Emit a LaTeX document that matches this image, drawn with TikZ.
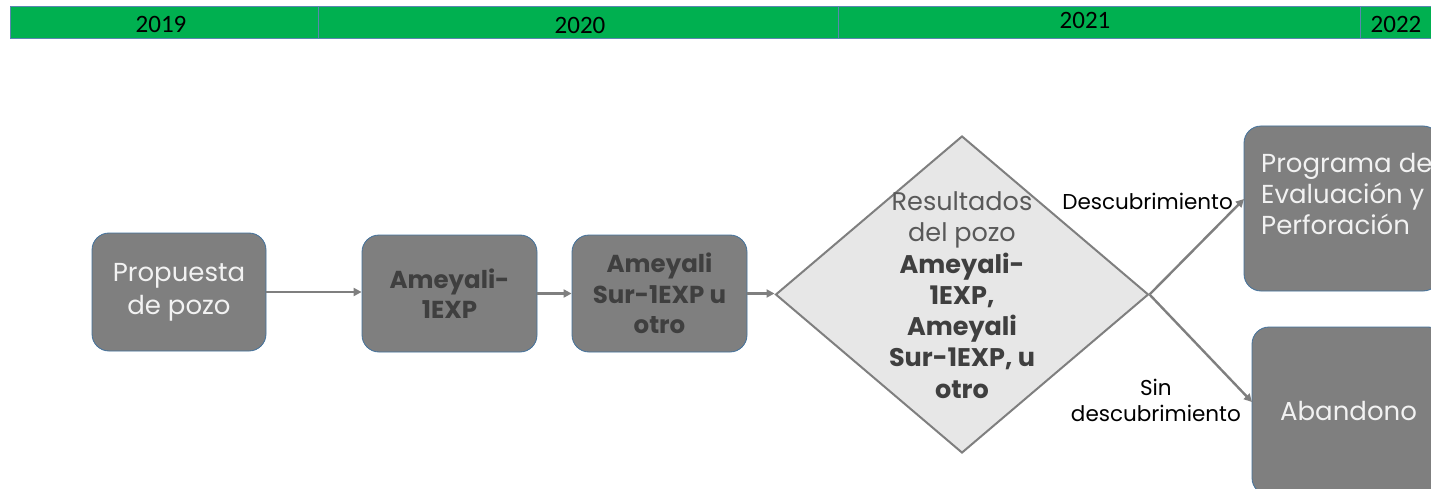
\documentclass[tikz,border=0pt]{standalone}
\usepackage{fontspec}
\setmainfont{Poppins}
\newfontfamily\yearfont{Carlito}
\usetikzlibrary{shapes.geometric,arrows.meta}
\definecolor{barG}{HTML}{00B050}
\definecolor{barEdge}{HTML}{5A86B0}
\definecolor{boxG}{HTML}{7F7F7F}
\definecolor{boxEdge}{HTML}{41719C}
\definecolor{decF}{HTML}{E7E7E7}
\definecolor{lineG}{HTML}{7F7F7F}
\definecolor{darkT}{HTML}{3F3F3F}
\definecolor{midT}{HTML}{595959}
\definecolor{lightT}{HTML}{F2F2F2}
\tikzset{
  yearseg/.style={fill=barG, draw=barEdge, line width=0.8pt},
  yeartxt/.style={font=\yearfont\fontsize{25}{27}\selectfont, text=black, inner sep=0},
  stagebox/.style={rounded corners=17pt, fill=boxG, draw=boxEdge, line width=0.8pt, inner sep=0, align=center},
  lighttxt/.style={text=lightT, font=\fontsize{26}{33}\selectfont},
  boldtxt/.style={text=darkT, font=\fontsize{24.5}{30.5}\selectfont\bfseries},
  decbox/.style={diamond, fill=decF, draw=lineG, line width=2pt, inner sep=0},
  arr/.style={draw=lineG, line width=2.4pt, -{Triangle[length=8pt,width=8pt]}},
  edgetxt/.style={text=black, font=\fontsize{21.5}{26}\selectfont, inner sep=0, align=center}
}
\begin{document}
\begin{tikzpicture}[x=1pt,y=-1pt]
\useasboundingbox (0,0) rectangle (1431,489);
\clip (0,0) rectangle (1431,489);
% timeline bar
\draw[yearseg] (10,6) rectangle (318,38);
\draw[yearseg] (318,6) rectangle (838,38);
\draw[yearseg] (838,6) rectangle (1360,38);
\draw[yearseg] (1360,6) rectangle (1440,38);
\node[yeartxt] (y19) at (161,24) {2019};
\node[yeartxt] (y20) at (580,25) {2020};
\node[yeartxt] (y21) at (1085,20) {2021};
\node[yeartxt] (y22) at (1396,24) {2022};
% stages
\node[stagebox, minimum width=174pt, minimum height=118pt, lighttxt] (prop) at (179,292) {Propuesta\\de pozo};
\node[stagebox, minimum width=175pt, minimum height=117pt, boldtxt] (ame) at (449.5,293.5) {Ameyali-\\1EXP};
\node[stagebox, minimum width=175pt, minimum height=117pt, boldtxt] (sur) at (659.5,293.5) {Ameyali\\Sur-1EXP u\\otro};
\node[decbox, minimum width=373pt, minimum height=317pt] (dec) at (962,294.5) {};
\node[inner sep=0, align=center, font=\fontsize{25.5}{31.3}\selectfont] (dectxt) at (962,295)
  {\textcolor{midT}{Resultados}\\\textcolor{midT}{del pozo}\\\textcolor{darkT}{\bfseries Ameyali-}\\\textcolor{darkT}{\bfseries 1EXP,}\\\textcolor{darkT}{\bfseries Ameyali}\\\textcolor{darkT}{\bfseries Sur-1EXP, u}\\\textcolor{darkT}{\bfseries otro}};
\node[stagebox, minimum width=196pt, minimum height=165pt] (prog) at (1342,208.5) {};
\node[lighttxt, anchor=west, align=left, inner sep=0, font=\fontsize{26}{31}\selectfont] (progtxt) at (1261,194) {Programa de\\Evaluación y\\Perforación};
\node[stagebox, minimum width=193pt, minimum height=168pt, lighttxt] (aband) at (1348.5,411) {Abandono};
% connectors
\coordinate (progin) at (1244,199);
\coordinate (abandin) at (1252,402);
\draw[arr] (prop.east) -- (prop.east -| ame.west);
\draw[arr] (ame.east) -- (ame.east -| sur.west);
\draw[arr] (sur.east) -- (sur.east -| dec.west);
\draw[arr] (dec.east) -- (progin);
\draw[arr] (dec.east) -- (abandin);
\node[edgetxt, anchor=east] (ldesc) at (1233,201) {Descubrimiento};
\node[edgetxt, anchor=east] (lsin) at (1241,400) {Sin\\descubrimiento};
\end{tikzpicture}
\end{document}
